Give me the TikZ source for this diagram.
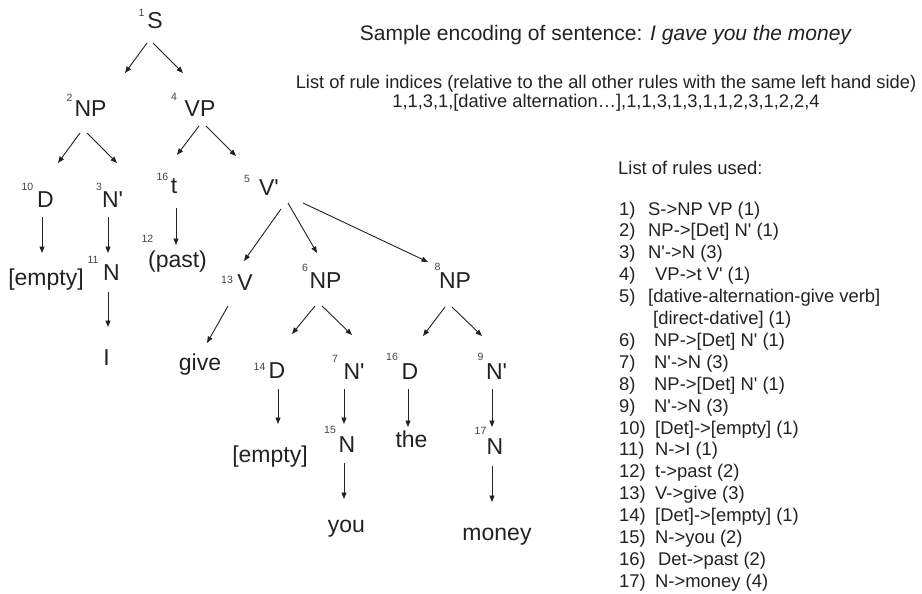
\documentclass[tikz,border=0pt]{standalone}
\usepackage{fontspec}
\setmainfont{Liberation Sans}
\usetikzlibrary{arrows.meta}
\definecolor{ink}{HTML}{222222}
\begin{document}
\begin{tikzpicture}[x=1pt,y=-1pt,
  lbl/.style={inner sep=0pt, anchor=base, font=\fontsize{23}{27}\selectfont, text=ink},
  sup/.style={inner sep=0pt, anchor=base, font=\fontsize{10.5}{12}\selectfont, text=ink!85},
  arr/.style={draw=ink, line width=0.9pt, -{Triangle[length=6.5pt,width=5pt]}},
  hdr/.style={inner sep=0pt, anchor=base, font=\fontsize{21}{25}\selectfont, text=ink},
  hdrs/.style={inner sep=0pt, anchor=base, font=\fontsize{18.3}{22}\selectfont, text=ink},
  rulenum/.style={inner sep=0pt, anchor=base west, font=\fontsize{18.4}{22}\selectfont, text=ink},
  ruletxt/.style={inner sep=0pt, anchor=base west, font=\fontsize{18.4}{22}\selectfont, text=ink}]
\useasboundingbox[fill=white] (0,0) rectangle (922,594);

% ---- tree labels ----
\node[lbl] (s) at (155,28.5) {S};
\node[lbl] (np2) at (90.5,117) {NP};
\node[lbl] (vp4) at (200,117) {VP};
\node[lbl] (d10) at (45.5,207) {D};
\node[lbl] (n3) at (112.5,207) {N\textquotesingle};
\node[lbl] (t16) at (174,193) {t};
\node[lbl] (v5) at (269,195) {V\textquotesingle};
\node[lbl] (e1) at (46,285) {[empty]};
\node[lbl] (n11) at (111.5,280) {N};
\node[lbl] (iw) at (106.5,365) {I};
\node[lbl] (past) at (177.5,267) {(past)};
\node[lbl] (v13) at (245,290) {V};
\node[lbl] (np6) at (325.5,288) {NP};
\node[lbl] (np8) at (455,288) {NP};
\node[lbl] (give) at (200,370) {give};
\node[lbl] (d14) at (277,378) {D};
\node[lbl] (n7) at (354,379) {N\textquotesingle};
\node[lbl] (d16) at (410,379) {D};
\node[lbl] (n9) at (496.5,379) {N\textquotesingle};
\node[lbl] (e2) at (270,462) {[empty]};
\node[lbl] (n15) at (347,452) {N};
\node[lbl] (the) at (411.5,447) {the};
\node[lbl] (n17) at (495,454) {N};
\node[lbl] (you) at (346.5,532) {you};
\node[lbl] (money) at (497,540) {money};

% ---- superscript indices ----
\node[sup] (i1) at (141.5,17) {1};
\node[sup] (i2) at (69.5,102) {2};
\node[sup] (i4) at (174,101) {4};
\node[sup] (i16a) at (162.5,180) {16};
\node[sup] (i5) at (247,182) {5};
\node[sup] (i10) at (27.5,190) {10};
\node[sup] (i3) at (99,190) {3};
\node[sup] (i11) at (93,263) {11};
\node[sup] (i12) at (147.5,242) {12};
\node[sup] (i13) at (227,283) {13};
\node[sup] (i6) at (305,271) {6};
\node[sup] (i8) at (437.5,270) {8};
\node[sup] (i14) at (259.5,370) {14};
\node[sup] (i7) at (335,362) {7};
\node[sup] (i16b) at (392,360) {16};
\node[sup] (i9) at (480.5,360) {9};
\node[sup] (i15) at (330,433) {15};
\node[sup] (i17) at (480.5,434) {17};

% ---- connectors ----
\draw[arr] ([shift={(-8,14.5)}]s.base) -- ([shift={(34.5,-44)}]np2.base);
\draw[arr] ([shift={(-2,14.5)}]s.base) -- ([shift={(-17,-44)}]vp4.base);
\draw[arr] ([shift={(-10.5,16)}]np2.base) -- ([shift={(12.5,-44)}]d10.base);
\draw[arr] ([shift={(-3.5,16)}]np2.base) -- ([shift={(4.5,-44)}]n3.base);
\draw[arr] ([shift={(-1,9)}]vp4.base) -- ([shift={(3,-38)}]t16.base);
\draw[arr] ([shift={(6,9)}]vp4.base) -- ([shift={(-33,-39)}]v5.base);
\draw[arr] ([shift={(-3.5,10)}]d10.base) -- ([shift={(-4,-32)}]e1.base);
\draw[arr] ([shift={(-4.5,10)}]n3.base) -- ([shift={(-3.5,-27)}]n11.base);
\draw[arr] ([shift={(-3.5,12)}]n11.base) -- ([shift={(1.5,-38)}]iw.base);
\draw[arr] ([shift={(2,15)}]t16.base) -- ([shift={(-1.5,-22)}]past.base);
\draw[arr] ([shift={(12,14)}]v5.base) -- ([shift={(-1,-29)}]v13.base);
\draw[arr] ([shift={(19,8)}]v5.base) -- ([shift={(-8.5,-35)}]np6.base);
\draw[arr] ([shift={(34,8)}]v5.base) -- ([shift={(-27,-26)}]np8.base);
\draw[arr] ([shift={(-17,16)}]v13.base) -- ([shift={(7,-27)}]give.base);
\draw[arr] ([shift={(-10.5,18)}]np6.base) -- ([shift={(15,-44)}]d14.base);
\draw[arr] ([shift={(-3.5,18)}]np6.base) -- ([shift={(-2,-44)}]n7.base);
\draw[arr] ([shift={(-10,19)}]np8.base) -- ([shift={(13,-43)}]d16.base);
\draw[arr] ([shift={(-3,19)}]np8.base) -- ([shift={(-14.5,-43)}]n9.base);
\draw[arr] ([shift={(1,11)}]d14.base) -- ([shift={(8,-38)}]e2.base);
\draw[arr] ([shift={(-10,10)}]n7.base) -- ([shift={(-3,-28)}]n15.base);
\draw[arr] ([shift={(-2,10)}]d16.base) -- ([shift={(-3.5,-20)}]the.base);
\draw[arr] ([shift={(-4.5,10)}]n9.base) -- ([shift={(-3,-27)}]n17.base);
\draw[arr] ([shift={(-3,11)}]n15.base) -- ([shift={(-2.5,-33)}]you.base);
\draw[arr] ([shift={(-3,12)}]n17.base) -- ([shift={(-5,-38)}]money.base);

% ---- header ----
\node[hdr] (title) at (606,41) {Sample encoding of sentence: \textit{I gave you the money}};
\node[hdrs] (idxhead) at (606,88.8) {List of rule indices (relative to the all other rules with the same left hand side)};
\node[hdrs] (idxlist) at (606,107) {1,1,3,1,[dative alternation…],1,1,3,1,3,1,1,2,3,1,2,2,4};

% ---- list of rules ----
\node[rulenum] (rhead) at (618,174) {List of rules used:};
\node[rulenum] (n01) at (619,215) {1)};     \node[ruletxt] (r01) at (648,215) {S->NP VP (1)};
\node[rulenum] (n02) at (619,236.9) {2)};   \node[ruletxt] (r02) at (648,236.9) {NP->[Det] N\textquotesingle{} (1)};
\node[rulenum] (n03) at (619,258.8) {3)};   \node[ruletxt] (r03) at (648,258.8) {N\textquotesingle->N (3)};
\node[rulenum] (n04) at (619,280.7) {4)};   \node[ruletxt] (r04) at (655,280.7) {VP->t V\textquotesingle{} (1)};
\node[rulenum] (n05) at (619,302.6) {5)};   \node[ruletxt] (r05) at (648,302.6) {[dative-alternation-give verb]};
                                            \node[ruletxt] (r05b) at (653,324.5) {[direct-dative] (1)};
\node[rulenum] (n06) at (619,346.4) {6)};   \node[ruletxt] (r06) at (654,346.4) {NP->[Det] N\textquotesingle{} (1)};
\node[rulenum] (n07) at (619,368.3) {7)};   \node[ruletxt] (r07) at (654,368.3) {N\textquotesingle->N (3)};
\node[rulenum] (n08) at (619,390.2) {8)};   \node[ruletxt] (r08) at (654,390.2) {NP->[Det] N\textquotesingle{} (1)};
\node[rulenum] (n09) at (619,412.1) {9)};   \node[ruletxt] (r09) at (654,412.1) {N\textquotesingle->N (3)};
\node[rulenum] (n10) at (619,434) {10)};    \node[ruletxt] (r10) at (655,434) {[Det]->[empty] (1)};
\node[rulenum] (n11r) at (619,455.9) {11)}; \node[ruletxt] (r11) at (655,455.9) {N->I (1)};
\node[rulenum] (n12) at (619,477.8) {12)};  \node[ruletxt] (r12) at (655,477.8) {t->past (2)};
\node[rulenum] (n13) at (619,499.7) {13)};  \node[ruletxt] (r13) at (655,499.7) {V->give (3)};
\node[rulenum] (n14) at (619,521.6) {14)};  \node[ruletxt] (r14) at (655,521.6) {[Det]->[empty] (1)};
\node[rulenum] (n15r) at (619,543.5) {15)}; \node[ruletxt] (r15) at (655,543.5) {N->you (2)};
\node[rulenum] (n16) at (619,565.4) {16)};  \node[ruletxt] (r16) at (658,565.4) {Det->past (2)};
\node[rulenum] (n17r) at (619,587.3) {17)}; \node[ruletxt] (r17) at (655,587.3) {N->money (4)};
\end{tikzpicture}
\end{document}
